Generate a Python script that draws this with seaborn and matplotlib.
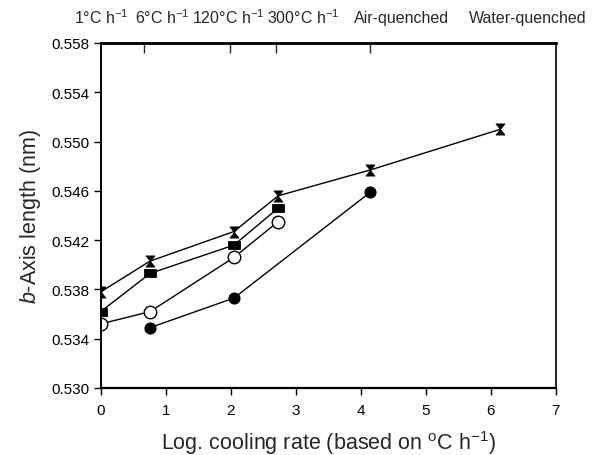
import matplotlib
matplotlib.use("Agg")
import matplotlib.pyplot as plt
from matplotlib.path import Path
import seaborn as sns
import pandas as pd

# Log10 cooling rate positions and measured b-axis lengths (nm)
x_hourglass = [0.0, 0.76, 2.05, 2.73, 4.15, 6.15]
y_hourglass = [0.5378, 0.5403, 0.5427, 0.5456, 0.5477, 0.5510]

x_square = [0.0, 0.76, 2.05, 2.73]
y_square = [0.5362, 0.5393, 0.5416, 0.5446]

x_open = [0.0, 0.76, 2.05, 2.73]
y_open = [0.5352, 0.5362, 0.5406, 0.5435]

x_filled = [0.76, 2.05, 4.15]
y_filled = [0.5349, 0.5373, 0.5459]

y_ticks = [0.530, 0.534, 0.538, 0.542, 0.546, 0.550, 0.554, 0.558]
x_ticks = [0, 1, 2, 3, 4, 5, 6, 7]
top_ticks = [0.67, 1.99, 2.70, 4.14]
top_labels = [r"1°C h$^{-1}$", r"6°C h$^{-1}$", r"120°C h$^{-1}$",
              r"300°C h$^{-1}$", "Air-quenched", "Water-quenched"]
top_label_px = [101, 162, 228, 303, 402, 528]

sns.set_style("ticks")
plt.rcParams["font.family"] = ["Liberation Sans", "DejaVu Sans"]
plt.rcParams["mathtext.fontset"] = "custom"
plt.rcParams["mathtext.rm"] = "Liberation Sans"
plt.rcParams["mathtext.it"] = "Liberation Sans:italic"

W, H = 599, 456
fig = plt.figure(figsize=(W / 100, H / 100), dpi=100)
left, right, top, bottom = 100.7, 555.7, 44, 389
ax = fig.add_axes([left / W, 1 - bottom / H, (right - left) / W, (bottom - top) / H])

# Vertical hourglass marker: two triangles meeting at the centre
hourglass = Path([(-0.8, 1), (0.8, 1), (-0.8, -1), (0.8, -1), (-0.8, 1)],
                 [Path.MOVETO, Path.LINETO, Path.LINETO, Path.LINETO, Path.CLOSEPOLY])
# Slightly wide rectangle marker
rect = Path([(-1, -0.65), (1, -0.65), (1, 0.65), (-1, 0.65), (-1, -0.65)],
            [Path.MOVETO, Path.LINETO, Path.LINETO, Path.LINETO, Path.CLOSEPOLY])

series = [
    (x_hourglass, y_hourglass, dict(marker=hourglass, markersize=8, markerfacecolor="black",
                                    markeredgecolor="black", markeredgewidth=0.6)),
    (x_square, y_square, dict(marker=rect, markersize=8, markerfacecolor="black",
                              markeredgecolor="black", markeredgewidth=0.6)),
    (x_open, y_open, dict(marker="o", markersize=9, markerfacecolor="white",
                          markeredgecolor="black", markeredgewidth=1.0)),
    (x_filled, y_filled, dict(marker="o", markersize=8, markerfacecolor="black",
                              markeredgecolor="black")),
]
for xs, ys, kw in series:
    df = pd.DataFrame({"x": xs, "y": ys})
    sns.lineplot(data=df, x="x", y="y", ax=ax, color="black", linewidth=1.0,
                 estimator=None, sort=False, legend=False, **kw)

ax.set_xlim(0, 7)
ax.set_ylim(0.530, 0.558)
ax.set_xticks(x_ticks)
ax.set_xticklabels([str(t) for t in x_ticks])
ax.set_yticks(y_ticks)
ax.set_yticklabels([f"{t:.3f}" for t in y_ticks])
ax.tick_params(axis="both", direction="out", length=5, width=1.0, labelsize=11,
               colors="black", pad=3)
ax.tick_params(axis="x", pad=6)

for side in ["left", "right", "top", "bottom"]:
    ax.spines[side].set_visible(True)
    ax.spines[side].set_color("black")
ax.spines["left"].set_linewidth(1.4)
ax.spines["bottom"].set_linewidth(1.6)
ax.spines["top"].set_linewidth(1.8)
ax.spines["right"].set_linewidth(1.2)

sec = ax.secondary_xaxis("top")
sec.set_xticks(top_ticks)
sec.set_xticklabels([])
sec.tick_params(direction="in", length=7, width=1.0)
sec.spines["top"].set_linewidth(1.8)

for lbl, px in zip(top_labels, top_label_px):
    fig.text(px / W, 1 - 18 / H, lbl, ha="center", va="center", fontsize=11.5)

ax.set_xlabel(r"Log. cooling rate (based on $^{\mathrm{o}}$C h$^{-1}$)", fontsize=15.5, labelpad=8)
ax.set_ylabel(r"$b$-Axis length (nm)", fontsize=15.5, labelpad=6)

fig.savefig("out.png", dpi=100)
